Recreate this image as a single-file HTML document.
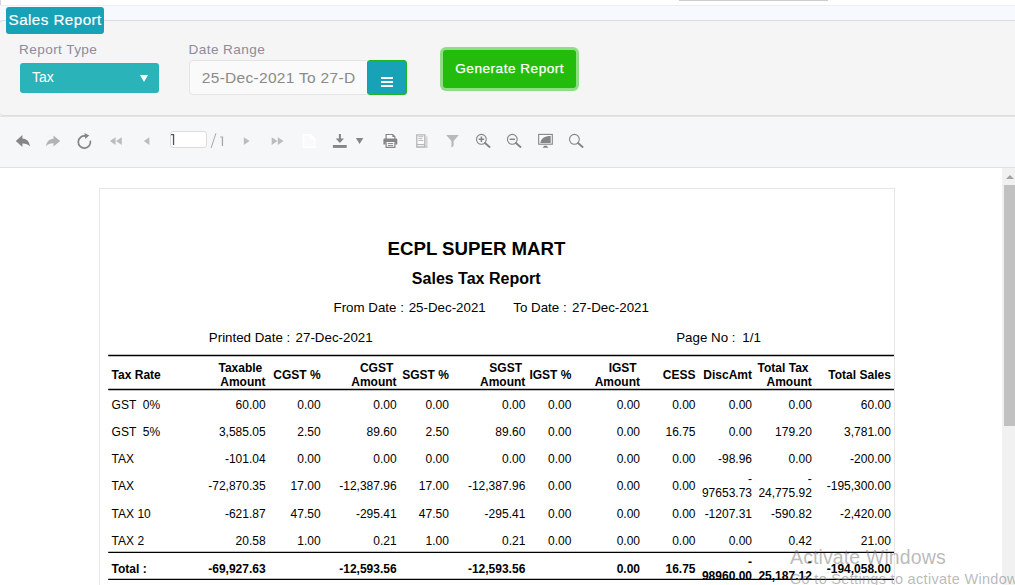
<!DOCTYPE html>
<html>
<head>
<meta charset="utf-8">
<title>Sales Report</title>
<style>
*{box-sizing:border-box;margin:0;padding:0}
html,body{width:1015px;height:585px;overflow:hidden;background:#fff;font-family:"Liberation Sans",sans-serif}
#root{position:relative;width:1015px;height:585px;overflow:hidden;background:#fff}
.abs{position:absolute}
#topline{left:0;top:0;width:1px;height:5px;background:#d6d6d6}
#bluestrip{left:0;top:5px;width:1015px;height:16px;background:#f6f9fd;border-top:1px solid #eceef1}
#panel{left:-1px;top:20px;width:1021px;height:96px;background:#f5f5f5;border:1px solid #dcdcdc;border-bottom-color:#dedede;border-radius:4px 0 0 4px}
#badge{left:6px;top:7px;width:98px;height:27px;background:#17a2b8;border-radius:3px;color:#fff;font-size:15.2px;line-height:27px;white-space:nowrap}
#badge span{position:absolute;left:2.6px;top:-1.2px;letter-spacing:0.44px;-webkit-text-stroke:0.2px #fff}
.lbl{color:#8c8c9c;font-size:13.6px;line-height:16px;white-space:nowrap;letter-spacing:0.41px}
#sel{left:20px;top:63px;width:139px;height:30px;background:#2ab3b8;border-radius:3px;color:#fff;font-size:14px;line-height:30px}
#sel span{position:absolute;left:12px;top:-1px}
#sel i{position:absolute;left:119.8px;top:11.9px;width:0;height:0;border-left:4.7px solid transparent;border-right:4.7px solid transparent;border-top:7px solid #fff}
#dinp{left:189px;top:60px;width:179px;height:35px;background:#fafafa;border:1px solid #e4e4e4;border-radius:4px 0 0 4px;color:#8a8a8a;font-size:15.5px;line-height:32px;white-space:nowrap;overflow:hidden}
#dinp span{position:absolute;left:11.8px;top:0.7px;letter-spacing:0.3px}
#dbtn{left:367px;top:60px;width:40px;height:35px;background:#17a2b8;border:1px solid #22b522;border-radius:3px}
#dbtn b{position:absolute;left:13px;width:12.3px;height:2px;background:#fff}
#gen{left:443px;top:50px;width:133px;height:38px;background:#24bc0c;border-radius:3px;box-shadow:0 0 0 3px #8fdd84;color:#fff;font-size:13.6px;line-height:38px;text-align:center;white-space:nowrap}
#gen span{position:relative;top:0.4px;left:0.2px;letter-spacing:0.5px;-webkit-text-stroke:0.25px #fff}
#tbar{left:0;top:116px;width:1015px;height:52px;background:#f6f7f9;border-top:1px solid #e3e3e4;border-bottom:1px solid #e2e2e2}
#pginp{left:170px;top:131px;width:37px;height:17px;background:#fff;border:1px solid #dcdcdc;border-radius:3px}
#page{left:99px;top:188px;width:796px;height:500px;border:1px solid #e6e6e6;background:#fff}
.t{position:absolute;white-space:pre;color:#000;font-size:12px;line-height:14px}
.b{font-weight:bold}
.rule{position:absolute;left:108px;width:786px;height:1px;background:#000}
#sbtrack{left:1002px;top:168px;width:17px;height:420px;background:#f1f1f1}
#sbthumb{left:1004px;top:185px;width:13px;height:241px;background:#c1c1c1}
#sbarrow{left:1006px;top:175px;width:0;height:0;border-left:4.5px solid transparent;border-right:4.5px solid transparent;border-bottom:4.5px solid #a3a3a3}
.wm{position:absolute;white-space:nowrap;color:rgba(120,120,120,0.52)}
#icons{position:absolute;left:0;top:0}
</style>
</head>
<body>
<div id="root">
  <div id="topline" class="abs"></div>
  <div class="abs" style="left:679px;top:0;width:149px;height:1px;background:#cdcdcd"></div>
  <div id="bluestrip" class="abs"></div>
  <div id="panel" class="abs"></div>
  <div id="badge" class="abs"><span>Sales Report</span></div>
  <div class="abs lbl" id="l1" style="left:19px;top:41.8px">Report Type</div>
  <div class="abs lbl" id="l2" style="left:188.5px;top:41.8px">Date Range</div>
  <div id="sel" class="abs"><span>Tax</span><i></i></div>
  <div id="dinp" class="abs"><span>25-Dec-2021 To 27-D</span></div>
  <div id="dbtn" class="abs"><b style="top:16px"></b><b style="top:20px"></b><b style="top:24px"></b></div>
  <div id="gen" class="abs"><span>Generate Report</span></div>
  <div id="tbar" class="abs"></div>
  <div id="pginp" class="abs"></div>
  <svg id="icons" width="1015" height="585" viewBox="0 0 1015 585">
  <!-- back -->
  <path d="M22.4 135 L15.8 141 L22.4 146.9 V143.4 C25.6 143.3 27.9 144.1 29.9 146.4 C29.5 141.9 27 138.9 22.4 138.6 Z" fill="#858585"/>
  <!-- forward -->
  <path d="M53.5 135.4 L60.2 140.9 L53.5 146.6 V143.3 C50.4 143.2 48.1 143.9 46.1 146.2 C46.5 141.9 49 139 53.5 138.7 Z" fill="#b3b3b3"/>
  <!-- refresh -->
  <path d="M85.6 136.1 A6.1 6.1 0 1 0 90.3 140.6" fill="none" stroke="#858585" stroke-width="1.7"/>
  <path d="M84.4 133 L89.3 135.6 L85.2 139 Z" fill="#858585"/>
  <!-- first -->
  <path d="M115.6 137.3 V144.9 L109.9 141.1 Z M121.8 137.3 V144.9 L116.1 141.1 Z" fill="#bcbcbc"/>
  <!-- prev -->
  <path d="M149.4 137.3 V144.9 L143.8 141.1 Z" fill="#bcbcbc"/>
  <!-- next -->
  <path d="M243.8 137.3 V144.9 L249.6 141.1 Z" fill="#bcbcbc"/>
  <!-- last -->
  <path d="M271.7 137.3 V144.9 L277.4 141.1 Z M277.8 137.3 V144.9 L283.5 141.1 Z" fill="#bcbcbc"/>
  <!-- blank page (white) -->
  <path d="M303.5 134.7 H310.6 L314.6 138.7 V147.3 H303.5 Z" fill="#fafafc" stroke="#ffffff" stroke-width="1.5"/><path d="M310 134.2 V139.2 H315 Z" fill="#ffffff"/>
  <!-- download -->
  <path d="M338.9 133.9 H340.9 V138.4 H344 L339.9 143 L335.7 138.4 H338.9 Z" fill="#858585"/>
  <rect x="332.9" y="145" width="13.8" height="2.9" fill="#858585"/>
  <path d="M355.9 138.1 H363.3 L359.6 144 Z" fill="#858585"/>
  <!-- printer -->
  <g>
    <path d="M386.1 139 V134.5 H392.7 L394.9 136.7 V139" fill="#fbfbfd" stroke="#858585" stroke-width="1.2"/>
    <path d="M392.4 134.3 V137 H395.1 Z" fill="#858585"/>
    <path d="M384.4 138.6 H396.3 Q397.3 138.6 397.3 139.6 V144.5 H395.2 V141.9 H385.6 V144.5 H383.4 V139.6 Q383.4 138.6 384.4 138.6 Z" fill="#858585"/>
    <path d="M386.1 142.2 V147.3 H394.9 V142.2" fill="#fbfbfd" stroke="#858585" stroke-width="1.2"/>
    <path d="M387.8 143.6 H393.2 M387.8 145.6 H393.2" stroke="#858585" stroke-width="1"/>
  </g>
  <!-- page setup (light) -->
  <g>
    <path d="M425.6 136.3 H427.6 V147.6 H425.6 Z" fill="#d6d6d6"/>
    <path d="M416.8 134.8 H424.8 V147 H416.8 Z" fill="#fbfbfd" stroke="#b4b4b4" stroke-width="1.3"/>
    <path d="M416.8 144.6 H424.8" stroke="#b4b4b4" stroke-width="1.1"/>
    <path d="M424.8 147 H427.4" stroke="#c4c4c4" stroke-width="1.2"/>
    <path d="M418.4 136.7 H423.3 M418.4 138.6 H422.2 M418.4 140.5 H423.3" stroke="#b4b4b4" stroke-width="0.9"/>
  </g>
  <!-- filter -->
  <path d="M446.2 135 H458.8 L453.6 141 V146 L451.4 147.6 V141 Z" fill="#b9b9b9"/>
  <!-- zoom in -->
  <g stroke="#858585" fill="none">
    <circle cx="481.4" cy="139.3" r="4.9" stroke-width="1.1"/>
    <path d="M485 143 L489.6 147" stroke-width="1.9" stroke-linecap="round"/>
    <path d="M478.7 139.3 H484.1 M481.4 136.6 V142" stroke-width="1.5"/>
  </g>
  <!-- zoom out -->
  <g stroke="#858585" fill="none">
    <circle cx="512.3" cy="139.3" r="4.9" stroke-width="1.1"/>
    <path d="M515.9 143 L520.5 147" stroke-width="1.9" stroke-linecap="round"/>
    <path d="M509.6 139.3 H515" stroke-width="1.5"/>
  </g>
  <!-- monitor -->
  <g>
    <rect x="538.7" y="134.4" width="13.6" height="9.8" fill="#fbfbfd" stroke="#858585" stroke-width="1.1"/>
    <path d="M540.4 142.9 C540.8 138.6 544.6 136 550.7 136 V142.9 Z" fill="#858585"/>
    <path d="M542.6 147.7 L544.3 145.8 H546.7 L548.4 147.7 Z" fill="#858585"/>
  </g>
  <!-- search -->
  <g stroke="#858585" fill="none">
    <circle cx="574.4" cy="139.3" r="4.9" stroke-width="1.1"/>
    <path d="M578 143 L582.6 147" stroke-width="1.9" stroke-linecap="round"/>
  </g>
  <!-- page number 1 / 1 -->
  <path d="M171 134 H174.2 V144.9 H172.9 V135.2 H171 Z" fill="#555555"/>
  <path d="M215.9 133.3 L211.1 148" stroke="#a8a8a8" stroke-width="1" fill="none"/>
  <path d="M220.3 136.4 H223.1 V145.9 H221.8 V137.6 H220.3 Z" fill="#a8a8a8"/>
</svg>

  <div id="page" class="abs"></div>
  <div class="t b" id="h1" style="top:237.63px;left:276.50px;width:400px;text-align:center;font-size:18.67px;line-height:22px;">ECPL SUPER MART</div>
  <div class="t b" id="h2" style="top:269.01px;left:276.20px;width:400px;text-align:center;font-size:16px;line-height:20px;">Sales Tax Report</div>
  <div class="t" id="fd1" style="top:299.89px;left:333.50px;font-size:13.33px;line-height:16px;">From Date :</div>
  <div class="t" id="fd2" style="top:299.89px;left:408.70px;font-size:13.33px;line-height:16px;">25-Dec-2021</div>
  <div class="t" id="fd3" style="top:299.89px;left:513.30px;font-size:13.33px;line-height:16px;">To Date :</div>
  <div class="t" id="fd4" style="top:299.89px;left:571.90px;font-size:13.33px;line-height:16px;">27-Dec-2021</div>
  <div class="t" id="pd1" style="top:329.79px;left:208.80px;font-size:13.33px;line-height:16px;">Printed Date :</div>
  <div class="t" id="pd2" style="top:329.79px;left:295.60px;font-size:13.33px;line-height:16px;">27-Dec-2021</div>
  <div class="t" id="pn1" style="top:329.79px;left:676.20px;font-size:13.33px;line-height:16px;">Page No :</div>
  <div class="t" id="pn2" style="top:329.79px;left:742.30px;font-size:13.33px;line-height:16px;">1/1</div>
  <svg class="abs" style="left:0;top:0" width="1015" height="585" viewBox="0 0 1015 585"><path d="M108.2 355.5 H894 M108.2 389.5 H894 M108.2 552.45 H894 M108.2 579.45 H894" stroke="#000" stroke-width="1.3" fill="none"/></svg>
  <div class="t b" style="top:368.13px;left:111.60px;">Tax Rate</div>
  <div class="t b" style="top:361.23px;right:749.40px;text-align:right;">Taxable </div><div class="t b" style="top:375.03px;right:749.40px;text-align:right;">Amount</div>
  <div class="t b" style="top:368.13px;right:694.40px;text-align:right;">CGST %</div>
  <div class="t b" style="top:361.23px;right:618.40px;text-align:right;">CGST </div><div class="t b" style="top:375.03px;right:618.40px;text-align:right;">Amount</div>
  <div class="t b" style="top:368.13px;right:566.20px;text-align:right;">SGST %</div>
  <div class="t b" style="top:361.23px;right:489.70px;text-align:right;">SGST </div><div class="t b" style="top:375.03px;right:489.70px;text-align:right;">Amount</div>
  <div class="t b" style="top:368.13px;right:443.60px;text-align:right;">IGST %</div>
  <div class="t b" style="top:361.23px;right:375.00px;text-align:right;">IGST </div><div class="t b" style="top:375.03px;right:375.00px;text-align:right;">Amount</div>
  <div class="t b" style="top:368.13px;right:319.50px;text-align:right;">CESS</div>
  <div class="t b" style="top:368.13px;right:263.00px;text-align:right;">DiscAmt</div>
  <div class="t b" style="top:361.23px;right:203.20px;text-align:right;">Total Tax </div><div class="t b" style="top:375.03px;right:203.20px;text-align:right;">Amount</div>
  <div class="t b" style="top:368.13px;right:124.20px;text-align:right;">Total Sales</div>
  <div class="t" style="top:398.03px;left:111.60px;">GST  0%</div>
  <div class="t" style="top:398.03px;right:749.40px;text-align:right;">60.00</div>
  <div class="t" style="top:398.03px;right:694.40px;text-align:right;">0.00</div>
  <div class="t" style="top:398.03px;right:618.40px;text-align:right;">0.00</div>
  <div class="t" style="top:398.03px;right:566.20px;text-align:right;">0.00</div>
  <div class="t" style="top:398.03px;right:489.70px;text-align:right;">0.00</div>
  <div class="t" style="top:398.03px;right:443.60px;text-align:right;">0.00</div>
  <div class="t" style="top:398.03px;right:375.00px;text-align:right;">0.00</div>
  <div class="t" style="top:398.03px;right:319.50px;text-align:right;">0.00</div>
  <div class="t" style="top:398.03px;right:263.00px;text-align:right;">0.00</div>
  <div class="t" style="top:398.03px;right:203.20px;text-align:right;">0.00</div>
  <div class="t" style="top:398.03px;right:124.20px;text-align:right;">60.00</div>
  <div class="t" style="top:424.83px;left:111.60px;">GST  5%</div>
  <div class="t" style="top:424.83px;right:749.40px;text-align:right;">3,585.05</div>
  <div class="t" style="top:424.83px;right:694.40px;text-align:right;">2.50</div>
  <div class="t" style="top:424.83px;right:618.40px;text-align:right;">89.60</div>
  <div class="t" style="top:424.83px;right:566.20px;text-align:right;">2.50</div>
  <div class="t" style="top:424.83px;right:489.70px;text-align:right;">89.60</div>
  <div class="t" style="top:424.83px;right:443.60px;text-align:right;">0.00</div>
  <div class="t" style="top:424.83px;right:375.00px;text-align:right;">0.00</div>
  <div class="t" style="top:424.83px;right:319.50px;text-align:right;">16.75</div>
  <div class="t" style="top:424.83px;right:263.00px;text-align:right;">0.00</div>
  <div class="t" style="top:424.83px;right:203.20px;text-align:right;">179.20</div>
  <div class="t" style="top:424.83px;right:124.20px;text-align:right;">3,781.00</div>
  <div class="t" style="top:451.83px;left:111.60px;">TAX</div>
  <div class="t" style="top:451.83px;right:749.40px;text-align:right;">-101.04</div>
  <div class="t" style="top:451.83px;right:694.40px;text-align:right;">0.00</div>
  <div class="t" style="top:451.83px;right:618.40px;text-align:right;">0.00</div>
  <div class="t" style="top:451.83px;right:566.20px;text-align:right;">0.00</div>
  <div class="t" style="top:451.83px;right:489.70px;text-align:right;">0.00</div>
  <div class="t" style="top:451.83px;right:443.60px;text-align:right;">0.00</div>
  <div class="t" style="top:451.83px;right:375.00px;text-align:right;">0.00</div>
  <div class="t" style="top:451.83px;right:319.50px;text-align:right;">0.00</div>
  <div class="t" style="top:451.83px;right:263.00px;text-align:right;">-98.96</div>
  <div class="t" style="top:451.83px;right:203.20px;text-align:right;">0.00</div>
  <div class="t" style="top:451.83px;right:124.20px;text-align:right;">-200.00</div>
  <div class="t" style="top:478.63px;left:111.60px;">TAX</div>
  <div class="t" style="top:478.63px;right:749.40px;text-align:right;">-72,870.35</div>
  <div class="t" style="top:478.63px;right:694.40px;text-align:right;">17.00</div>
  <div class="t" style="top:478.63px;right:618.40px;text-align:right;">-12,387.96</div>
  <div class="t" style="top:478.63px;right:566.20px;text-align:right;">17.00</div>
  <div class="t" style="top:478.63px;right:489.70px;text-align:right;">-12,387.96</div>
  <div class="t" style="top:478.63px;right:443.60px;text-align:right;">0.00</div>
  <div class="t" style="top:478.63px;right:375.00px;text-align:right;">0.00</div>
  <div class="t" style="top:478.63px;right:319.50px;text-align:right;">0.00</div>
  <div class="t" style="top:472.03px;right:263.00px;text-align:right;">-</div>
  <div class="t" style="top:486.03px;right:263.00px;text-align:right;">97653.73</div>
  <div class="t" style="top:472.03px;right:203.20px;text-align:right;">-</div>
  <div class="t" style="top:486.03px;right:203.20px;text-align:right;">24,775.92</div>
  <div class="t" style="top:478.63px;right:124.20px;text-align:right;">-195,300.00</div>
  <div class="t" style="top:506.63px;left:111.60px;">TAX 10</div>
  <div class="t" style="top:506.63px;right:749.40px;text-align:right;">-621.87</div>
  <div class="t" style="top:506.63px;right:694.40px;text-align:right;">47.50</div>
  <div class="t" style="top:506.63px;right:618.40px;text-align:right;">-295.41</div>
  <div class="t" style="top:506.63px;right:566.20px;text-align:right;">47.50</div>
  <div class="t" style="top:506.63px;right:489.70px;text-align:right;">-295.41</div>
  <div class="t" style="top:506.63px;right:443.60px;text-align:right;">0.00</div>
  <div class="t" style="top:506.63px;right:375.00px;text-align:right;">0.00</div>
  <div class="t" style="top:506.63px;right:319.50px;text-align:right;">0.00</div>
  <div class="t" style="top:506.63px;right:263.00px;text-align:right;">-1207.31</div>
  <div class="t" style="top:506.63px;right:203.20px;text-align:right;">-590.82</div>
  <div class="t" style="top:506.63px;right:124.20px;text-align:right;">-2,420.00</div>
  <div class="t" style="top:533.53px;left:111.60px;">TAX 2</div>
  <div class="t" style="top:533.53px;right:749.40px;text-align:right;">20.58</div>
  <div class="t" style="top:533.53px;right:694.40px;text-align:right;">1.00</div>
  <div class="t" style="top:533.53px;right:618.40px;text-align:right;">0.21</div>
  <div class="t" style="top:533.53px;right:566.20px;text-align:right;">1.00</div>
  <div class="t" style="top:533.53px;right:489.70px;text-align:right;">0.21</div>
  <div class="t" style="top:533.53px;right:443.60px;text-align:right;">0.00</div>
  <div class="t" style="top:533.53px;right:375.00px;text-align:right;">0.00</div>
  <div class="t" style="top:533.53px;right:319.50px;text-align:right;">0.00</div>
  <div class="t" style="top:533.53px;right:263.00px;text-align:right;">0.00</div>
  <div class="t" style="top:533.53px;right:203.20px;text-align:right;">0.42</div>
  <div class="t" style="top:533.53px;right:124.20px;text-align:right;">21.00</div>
  <div class="t b" style="top:561.63px;left:111.60px;">Total :</div>
  <div class="t b" style="top:561.63px;right:749.40px;text-align:right;">-69,927.63</div>
  <div class="t b" style="top:561.63px;right:618.40px;text-align:right;">-12,593.56</div>
  <div class="t b" style="top:561.63px;right:489.70px;text-align:right;">-12,593.56</div>
  <div class="t b" style="top:561.63px;right:375.00px;text-align:right;">0.00</div>
  <div class="t b" style="top:561.63px;right:319.50px;text-align:right;">16.75</div>
  <div class="t b" style="top:555.03px;right:263.00px;text-align:right;">-</div>
  <div class="t b" style="top:569.03px;right:263.00px;text-align:right;">98960.00</div>
  <div class="t b" style="top:555.03px;right:203.20px;text-align:right;">-</div>
  <div class="t b" style="top:569.03px;right:203.20px;text-align:right;">25,187.12</div>
  <div class="t b" style="top:561.63px;right:124.20px;text-align:right;">-194,058.00</div>
  <div id="sbtrack" class="abs"></div>
  <div id="sbthumb" class="abs"></div>
  <div id="sbarrow" class="abs"></div>
  <div class="wm" id="wm1" style="left:790px;top:545px;font-size:19.5px;line-height:24px;letter-spacing:0.12px">Activate Windows</div>
  <div class="wm" id="wm2" style="left:790px;top:570px;font-size:14.5px;line-height:18px;letter-spacing:0.31px">Go to Settings to activate Windows.</div>
</div>
</body>
</html>
